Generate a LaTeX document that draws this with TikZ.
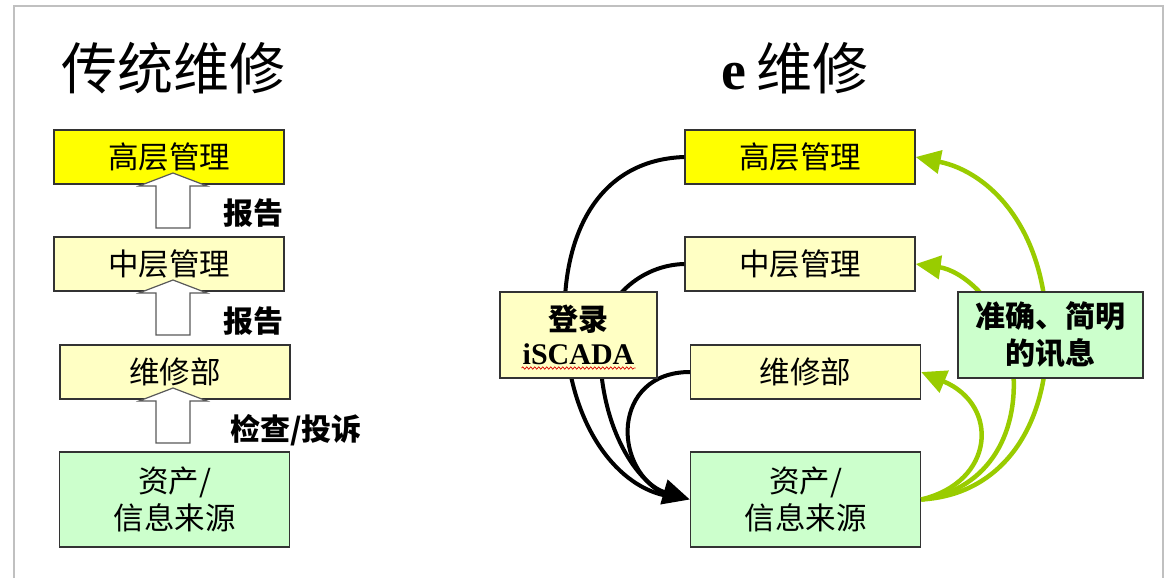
\documentclass[tikz,border=0pt]{standalone}
\usepackage{fontspec}
\setmainfont{Liberation Serif}
\newfontfamily\cjk{Noto Sans CJK SC}
\usetikzlibrary{arrows.meta,decorations.pathmorphing}
\definecolor{yel}{HTML}{FFFF00}
\definecolor{lyel}{HTML}{FFFFC4}
\definecolor{lgreen}{HTML}{CCFFCC}
\definecolor{ygreen}{HTML}{99CC00}
\definecolor{frame}{HTML}{C0C0C0}
\begin{document}
\begin{tikzpicture}[x=1pt,y=-1pt,
  box/.style={draw=black!80, line width=1.3pt, minimum width=230pt, minimum height=54pt,
    inner sep=0pt, font=\cjk\fontsize{30.5}{37}\selectfont, align=center},
  boldbox/.style={box, font=\cjk\bfseries\fontsize{30}{37}\selectfont},
  lbl/.style={font=\cjk\bfseries\fontsize{30}{34}\selectfont, inner sep=0pt},
  ttl/.style={font=\cjk\fontsize{56}{60}\selectfont, inner sep=0pt},
  blk/.style={line width=4pt, black},
  grn/.style={line width=4.5pt, ygreen},
  hollow/.pic={\draw[draw=black!65, fill=white, line width=1.2pt]
     (0,0) -- (34,13) -- (17,13) -- (17,55) -- (-17,55) -- (-17,13) -- (-34,13) -- cycle;}
]
\useasboundingbox (0,0) rectangle (1169,578);
% frame
\draw[frame, line width=2pt] (14,578) -- (14,6) -- (1163,6) -- (1163,578);

% titles
\node[ttl] (t1) at (173,68) {传统维修};
\node[ttl] (t2) at (795,68) {\rmfamily\bfseries e\,\cjk\mdseries 维修};

% left column
\node[box, fill=yel] (l1) at (169,157) {高层管理};
\node[box, fill=lyel] (l2) at (169,264) {中层管理};
\node[box, fill=lyel] (l3) at (175,372) {维修部};
\node[box, fill=lgreen, minimum height=95pt] (l4) at (174.5,499.5) {资产/\\信息来源};
\pic at (173,173) {hollow};
\pic at (173,280) {hollow};
\pic at (173,388) {hollow};
\node[lbl] (r1) at (253,213) {报告};
\node[lbl] (r2) at (253,321) {报告};
\node[lbl] (r3) at (296,430) {检查/投诉};

% right column
\node[box, fill=yel] (h) at (800,157) {高层管理};
\node[box, fill=lyel] (m) at (800,264) {中层管理};
\node[box, fill=lyel] (w) at (805.5,372) {维修部};
\node[box, fill=lgreen, minimum height=95pt] (a) at (805.5,499.5) {资产/\\信息来源};

% black curves
\draw[blk] (h.west) .. controls (595,160) and (560,240) .. (565,330)
   .. controls (570,430) and (620,488) .. (668,496);
\draw[blk] (w.west) .. controls (612,372) and (610,470) .. (668,496);
\draw[blk, -{Triangle[length=27pt,width=25pt]}] (m.west) .. controls (640,265) and (603,300) .. (600,340)
   .. controls (598,430) and (640,485) .. (a.west);

% green curves
\draw[grn, -{Triangle[length=25pt,width=23pt]}] (a.east) .. controls (1000,495) and (1046,430) .. (1047,340)
   .. controls (1048,230) and (990,172) .. (h.east);
\draw[grn, -{Triangle[length=25pt,width=23pt]}] (a.east) .. controls (990,490) and (1022,430) .. (1012,360)
   .. controls (1002,300) and (960,270) .. (m.east);
\draw[grn, -{Triangle[length=25pt,width=23pt]}] (a.east) .. controls (995,482) and (1000,405) .. (w.east);

% label boxes on top
\node[boldbox, fill=lyel, minimum width=157pt, minimum height=86pt] (login) at (578.5,335)
  {登录\\[-3pt]{\rmfamily\bfseries iSCADA}};
\draw[red!85!black, line width=0.7pt, decorate,
  decoration={snake, amplitude=1.2pt, segment length=4pt}]
  ([xshift=-57pt,yshift=-33pt]login.center) -- ([xshift=57pt,yshift=-33pt]login.center);
\node[boldbox, fill=lgreen, minimum width=185pt, minimum height=86pt] (msg) at (1050.5,335)
  {准确、简明\\的讯息};
\end{tikzpicture}
\end{document}
